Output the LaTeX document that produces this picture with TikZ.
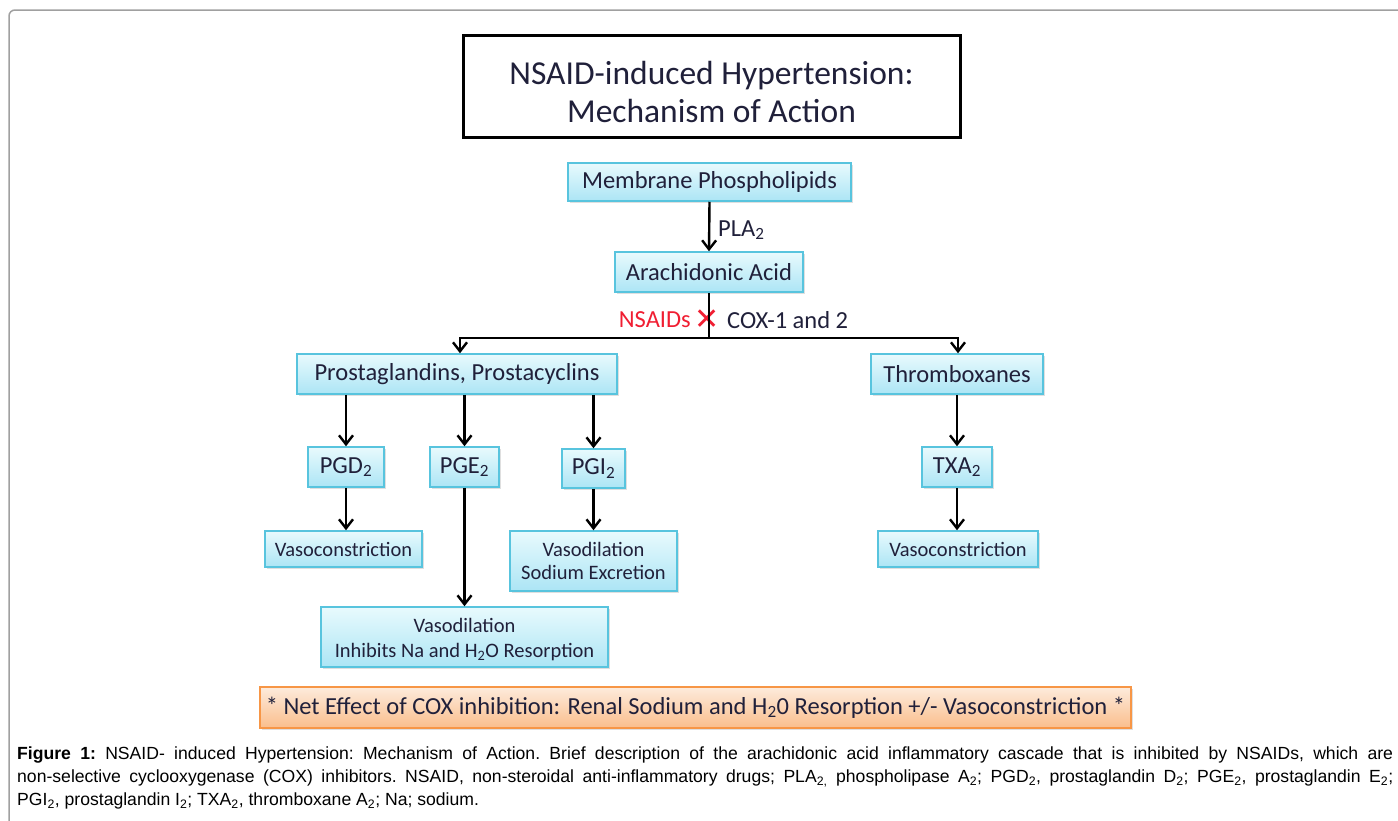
\documentclass[tikz,border=0pt]{standalone}
\usepackage{fontspec}
\setmainfont{Carlito}
\newfontfamily\capfont{Liberation Sans}
\newfontfamily\symfont{DejaVu Sans}
\usetikzlibrary{arrows.meta,shadows,calc}
\definecolor{boxtop}{RGB}{232,250,253}
\definecolor{boxbot}{RGB}{172,229,245}
\definecolor{boxline}{RGB}{88,196,222}
\definecolor{txt}{RGB}{32,32,58}
\definecolor{orgtop}{RGB}{253,235,220}
\definecolor{orgbot}{RGB}{250,190,140}
\definecolor{orgline}{RGB}{247,150,70}
\definecolor{framegray}{RGB}{160,160,160}
\definecolor{nsred}{RGB}{240,30,50}
\tikzset{
  cbox/.style={draw=boxline, line width=1.5pt, top color=boxtop, bottom color=boxbot,
    drop shadow={shadow xshift=2pt, shadow yshift=-2pt, opacity=0.25},
    font=\fontsize{24.5}{28}\selectfont, text=txt, inner sep=0pt, align=center},
  sbox/.style={cbox, font=\fontsize{20.5}{24}\selectfont},
  obox/.style={draw=orgline, line width=1.5pt, top color=orgtop, bottom color=orgbot,
    drop shadow={shadow xshift=2pt, shadow yshift=-2pt, opacity=0.25},
    font=\fontsize{24.5}{28}\selectfont, text=txt, inner sep=0pt, align=center},
  arr/.style={line width=2.4pt, -{Straight Barb[length=9pt,width=14pt,line width=2.4pt]}},
  ln/.style={line width=2.4pt},
  lbl/.style={font=\fontsize{24.5}{28}\selectfont, text=txt, inner sep=0pt}
}
\begin{document}
\begin{tikzpicture}[x=1pt,y=-1pt]
\useasboundingbox (0,0) rectangle (1398,820);
% frame
\draw[framegray, line width=1.5pt] (9,822) -- (9,16) arc[start angle=180, end angle=270, radius=6] -- (1400,10);
% title
\node[draw=black, line width=3pt, minimum width=497pt, minimum height=102pt, inner sep=0pt] (titlebox) at (711.5,86) {};
\node[align=center, text=txt, inner sep=0pt, font=\fontsize{33.5}{38}\selectfont] (title) at ([yshift=-6pt]titlebox.center)
  {NSAID-induced Hypertension:\\Mechanism of Action};
% boxes
\node[cbox, minimum width=283pt, minimum height=38pt] (mem) at (709.5,182) {Membrane Phospholipids};
\node[cbox, minimum width=188pt, minimum height=40pt] (arach) at (709,272) {Arachidonic Acid};
\node[cbox, minimum width=320pt, minimum height=40pt] (prost) at (457,374) {Prostaglandins, Prostacyclins};
\node[cbox, minimum width=172pt, minimum height=40pt] (thromb) at (957,374) {Thromboxanes};
\node[cbox, minimum width=76pt, minimum height=40pt] (pgd) at (346,467) {PGD\textsubscript{2}};
\node[cbox, minimum width=69pt, minimum height=40pt] (pge) at (464.5,467) {PGE\textsubscript{2}};
\node[cbox, minimum width=63pt, minimum height=39pt] (pgi) at (593.5,468.5) {PGI\textsubscript{2}};
\node[cbox, minimum width=70pt, minimum height=40pt] (txa) at (957,467) {TXA\textsubscript{2}};
\node[sbox, minimum width=157pt, minimum height=36pt] (vc1) at (343.5,549) {Vasoconstriction};
\node[sbox, minimum width=167pt, minimum height=60pt, font=\fontsize{20.5}{23}\selectfont] (vd2) at (593.5,561) {Vasodilation\\Sodium Excretion};
\node[sbox, minimum width=287pt, minimum height=60pt, font=\fontsize{20.5}{25}\selectfont] (vd1) at (464.5,637) {\rule{0pt}{20pt}Vasodilation\\Inhibits Na and H\textsubscript{2}O Resorption};
\node[sbox, minimum width=160pt, minimum height=36pt] (vc2) at (958,549) {Vasoconstriction};
\node[obox, minimum width=871pt, minimum height=41pt] (net) at (695.5,707.5)
  {* Net Effect of COX inhibition: Renal Sodium and H\textsubscript{2}0 Resorption +/- Vasoconstriction *};
% labels
\node[lbl, anchor=west] (pla) at (718,230) {PLA\textsubscript{2}};
\node[lbl, anchor=east, text=nsred] (nsaid) at (691,320) {NSAIDs};
\node[inner sep=0pt, text=nsred, font=\symfont\fontsize{30}{32}\selectfont] (xmark) at (707,320) {✕};
\node[lbl, anchor=west] (cox) at (727,320) {COX-1 and 2};
% connectors
\coordinate (br) at (709,338);
\coordinate (bl) at (460,338);
\coordinate (bR) at (958,338);
\draw[arr] (mem.south) -- (arach.north);
\draw[ln] (arach.south) -- (br);
\draw[ln, line cap=rect] (bl) -- (bR);
\draw[arr] (bl) -- (bl|-prost.north);
\draw[arr] (bR) -- (bR|-thromb.north);
\draw[arr] (pgd.north|-prost.south) -- (pgd.north);
\draw[arr] (pge.north|-prost.south) -- (pge.north);
\draw[arr] (pgi.north|-prost.south) -- (pgi.north);
\draw[arr] (txa.north|-thromb.south) -- (txa.north);
\draw[arr] (pgd.south) -- (pgd.south|-vc1.north);
\draw[arr] (pgi.south) -- (pgi.south|-vd2.north);
\draw[arr] (pge.south) -- (pge.south|-vd1.north);
\draw[arr] (txa.south) -- (txa.south|-vc2.north);
% caption
\node[anchor=north west, text width=1376pt, align=justify, inner sep=0pt,
  font=\capfont\fontsize{17.6}{23}\selectfont\frenchspacing] (cap) at (17,747)
  {\textbf{Figure 1:} NSAID- induced Hypertension: Mechanism of Action. Brief description of the arachidonic acid inflammatory cascade that is inhibited by NSAIDs, which are\linebreak
  non-selective cyclooxygenase (COX) inhibitors. NSAID, non-steroidal anti-inflammatory drugs; PLA\textsubscript{2,} phospholipase A\textsubscript{2}; PGD\textsubscript{2}, prostaglandin D\textsubscript{2}; PGE\textsubscript{2}, prostaglandin E\textsubscript{2};\linebreak
  PGI\textsubscript{2}, prostaglandin I\textsubscript{2}; TXA\textsubscript{2}, thromboxane A\textsubscript{2}; Na; sodium.};
\end{tikzpicture}
\end{document}
